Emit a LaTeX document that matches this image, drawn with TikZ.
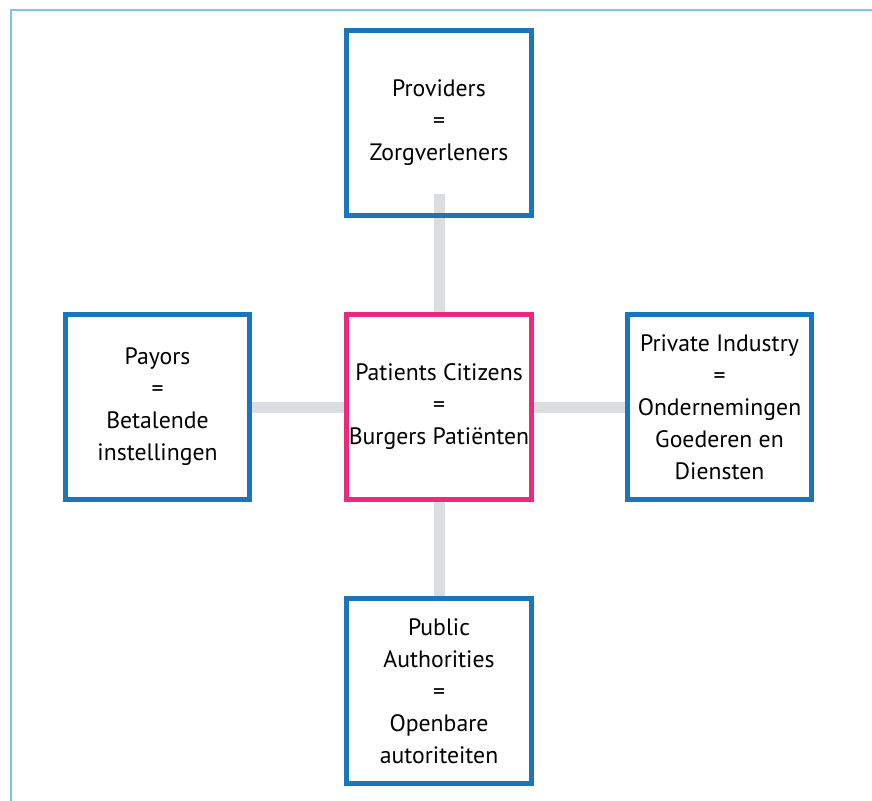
\documentclass[tikz,border=0pt]{standalone}
\usepackage{fontspec}
\setmainfont{PT Sans}
\usetikzlibrary{positioning,backgrounds}

\definecolor{boxblue}{HTML}{1B75BC}
\definecolor{boxpink}{HTML}{EC297B}
\definecolor{linkgray}{HTML}{DCDDDE}
\definecolor{framecyan}{HTML}{7CC5E6}

\begin{document}
\begin{tikzpicture}[
    x=0.02cm, y=-0.02cm,
    party/.style={draw=boxblue, line width=0.1cm, minimum width=3.7cm, minimum height=3.7cm,
        align=center, font=\fontsize{13.5}{18.2}\selectfont, inner sep=0pt},
    hub/.style={party, draw=boxpink},
    link/.style={draw=linkgray, line width=0.22cm},
    frame/.style={draw=framecyan, line width=0.04cm}
]
\useasboundingbox (0,0) rectangle (872,801);

% Outer frame
\draw[frame] (872,10) -- (11,10) -- (11,801);

% Define node positions
\node[hub] (pat) at (439,407) {Patients Citizens\\=\\Burgers Patiënten};
\node[party] (prov) at (439,123) {Providers\\=\\Zorgverleners};
\node[party] (pay) at (157.5,407) {Payors\\=\\Betalende\\instellingen};
\node[party] (ind) at (719.5,407) {Private Industry\\=\\Ondernemingen\\Goederen en\\Diensten};
\node[party] (pub) at (439,691) {Public\\Authorities\\=\\Openbare\\autoriteiten};

% Draw links behind the boxes
\begin{scope}[on background layer]
\draw[link, shorten <=-0.48cm] (prov.south) -- (pat.north);
\draw[link] (pat.west) -- (pay.east);
\draw[link] (pat.east) -- (ind.west);
\draw[link] (pat.south) -- (pub.north);
\end{scope}

\end{tikzpicture}
\end{document}
